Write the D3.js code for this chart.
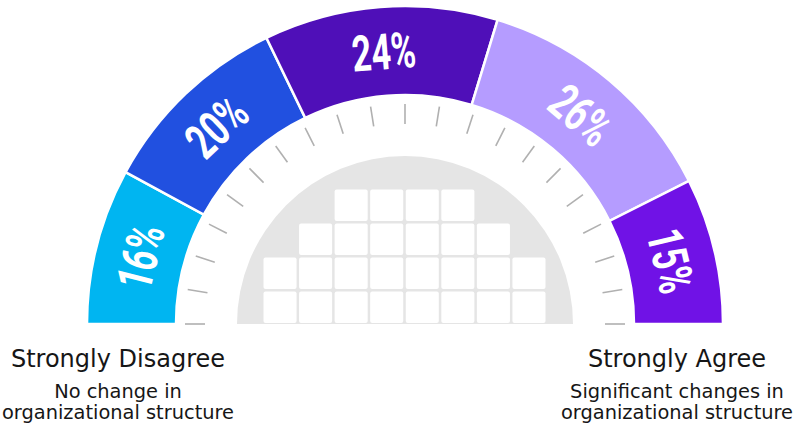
<!DOCTYPE html>
<html>
<head>
<meta charset="utf-8">
<script src="https://cdn.jsdelivr.net/npm/d3@7"></script>
<style>
  html, body { margin: 0; padding: 0; background: #ffffff; }
  svg { display: block; }
</style>
</head>
<body>
<div id="chart"></div>
<script>
// ---- data ----
const categories = ["Strongly Disagree", "Disagree", "Neutral", "Agree", "Strongly Agree"];
const values = [16, 20, 24, 26, 15];
const colors = ["#00b5f1", "#2150e0", "#4f0fb8", "#b59cff", "#7012e6"];
const tickCount = 21;
const buildingRows = [8, 8, 6, 4]; // squares per row, bottom to top
const leftTitle = "Strongly Disagree";
const leftSub = ["No change in", "organizational structure"];
const rightTitle = "Strongly Agree";
const rightSub = ["Significant changes in", "organizational structure"];

// ---- layout ----
const W = 794, H = 429;
const cx = 405, cy = 324;
const rOuter = 318, rInner = 229;
const tickR0 = 200, tickR1 = 220;
const grayR = 168;

const svg = d3.select("#chart").append("svg").attr("width", W).attr("height", H);
const g = svg.append("g").attr("transform", `translate(${cx},${cy})`);

const pie = d3.pie().sort(null).value(d => d.value)
  .startAngle(-Math.PI / 2).endAngle(Math.PI / 2);
const arcs = pie(values.map((v, i) => ({ value: v, cat: categories[i], color: colors[i] })));
const arc = d3.arc().innerRadius(rInner).outerRadius(rOuter);

g.selectAll("path.seg").data(arcs).join("path")
  .attr("class", "seg")
  .attr("d", arc)
  .attr("fill", d => d.data.color)
  .attr("stroke", "#ffffff")
  .attr("stroke-width", 2.5)
  .attr("stroke-linejoin", "miter");

// labels
const condensed = 0.68;
g.selectAll("text.lbl").data(arcs).join("text")
  .attr("class", "lbl")
  .attr("transform", d => {
    const [x, y] = arc.centroid(d);
    const mid = (d.startAngle + d.endAngle) / 2 * 180 / Math.PI;
    return `translate(${x},${y}) rotate(${mid}) scale(${condensed},1)`;
  })
  .attr("text-anchor", "middle")
  .attr("dy", "0.36em")
  .attr("fill", "#ffffff")
  .style("font-family", "Roboto, 'Liberation Sans', sans-serif")
  .style("font-weight", 700)
  .style("font-size", "50px")
  .text(d => d.data.value + "%");

// ticks
const tickAngle = d3.scaleLinear().domain([0, tickCount - 1]).range([-Math.PI / 2, Math.PI / 2]);
g.selectAll("line.tick").data(d3.range(tickCount)).join("line")
  .attr("class", "tick")
  .attr("x1", i => tickR0 * Math.sin(tickAngle(i)))
  .attr("y1", i => -tickR0 * Math.cos(tickAngle(i)))
  .attr("x2", i => tickR1 * Math.sin(tickAngle(i)))
  .attr("y2", i => -tickR1 * Math.cos(tickAngle(i)))
  .attr("stroke", "#b0b0b0")
  .attr("stroke-width", 1.6);

// gray semicircle
g.append("path")
  .attr("d", d3.arc().innerRadius(0).outerRadius(grayR).startAngle(-Math.PI / 2).endAngle(Math.PI / 2)())
  .attr("fill", "#e5e5e5");

// building squares
const maxCols = d3.max(buildingRows);
const xCol = d3.scaleBand().domain(d3.range(maxCols)).range([263.5, 545.5]).paddingInner(0.07);
const yRow = d3.scaleBand().domain(d3.range(buildingRows.length)).range([323, 189.5]).paddingInner(0.07);
const cells = [];
buildingRows.forEach((n, r) => {
  const start = (maxCols - n) / 2;
  for (let c = 0; c < n; c++) cells.push({ r, c: start + c });
});
svg.selectAll("rect.cell").data(cells).join("rect")
  .attr("class", "cell")
  .attr("x", d => xCol(d.c))
  .attr("y", d => yRow(d.r))
  .attr("width", xCol.bandwidth())
  .attr("height", yRow.bandwidth())
  .attr("rx", 2)
  .attr("fill", "#ffffff");

// captions
function caption(x, title, sub) {
  svg.append("text")
    .attr("x", x).attr("y", 367)
    .attr("text-anchor", "middle")
    .attr("fill", "#161616")
    .style("font-family", "'DejaVu Sans', sans-serif")
    .style("font-size", "24px")
    .text(title);
  svg.append("text")
    .attr("text-anchor", "middle")
    .attr("fill", "#161616")
    .style("font-family", "'DejaVu Sans', sans-serif")
    .style("font-size", "19.4px")
    .selectAll("tspan").data(sub).join("tspan")
    .attr("x", x)
    .attr("y", (d, i) => 398 + i * 21)
    .text(d => d);
}
caption(118, leftTitle, leftSub);
caption(677, rightTitle, rightSub);
</script>
</body>
</html>
